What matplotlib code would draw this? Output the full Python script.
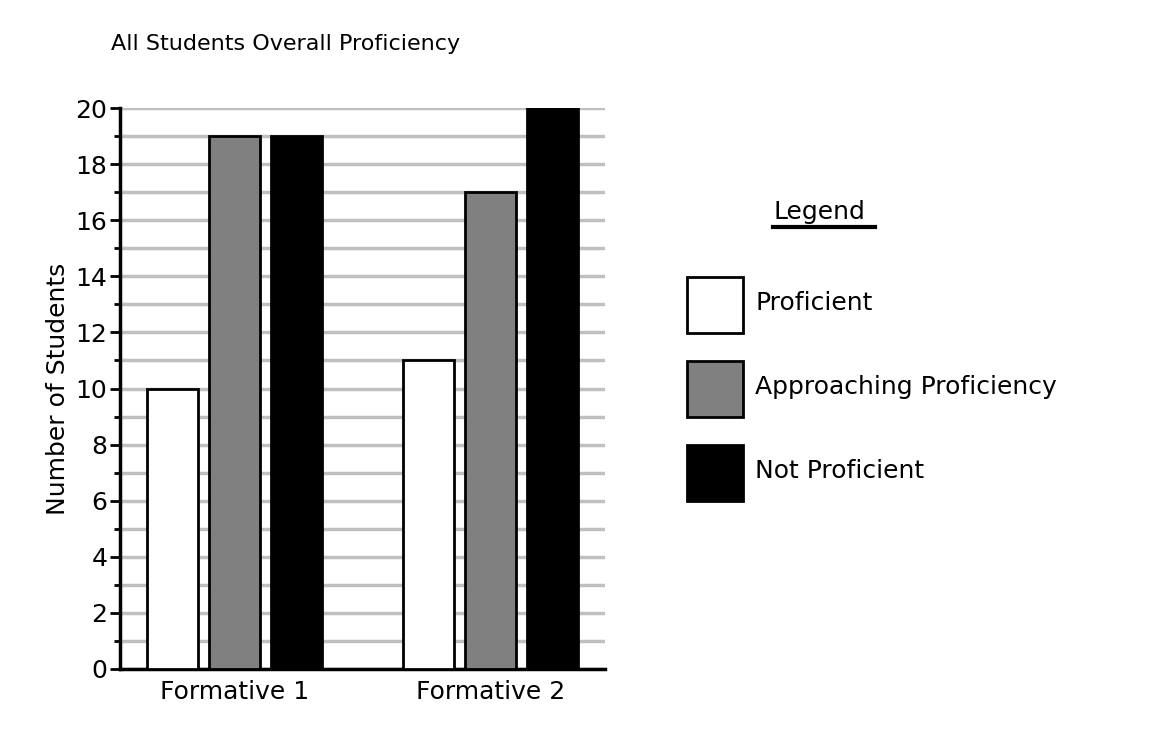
import numpy as np
import matplotlib.pyplot as plt
from matplotlib.patches import Rectangle

groups = ['Formative 1', 'Formative 2']
proficient = [10, 11]
approaching = [19, 17]
not_proficient = [19, 20]
series = ['Proficient', 'Approaching Proficiency', 'Not Proficient']
colors = ['white', 'gray', 'black']

fig = plt.figure(figsize=(11.64, 7.4), dpi=100)
ax = fig.add_axes([0.103, 0.096, 0.417, 0.758])

x = np.arange(len(groups))
w = 0.2
off = 0.243
for i, (vals, c) in enumerate(zip([proficient, approaching, not_proficient], colors)):
    ax.bar(x + (i - 1) * off, vals, width=w, color=c, edgecolor='black', linewidth=2, zorder=3)

ax.set_xlim(-0.45, 1.45)
ax.set_ylim(0, 20)
ax.set_yticks(np.arange(0, 21, 2))
ax.set_yticks(np.arange(0, 21, 1), minor=True)
ax.yaxis.grid(True, which='both', color='#c0c0c0', linewidth=2.5, zorder=0)
ax.set_axisbelow(True)
ax.set_xticks(x)
ax.set_xticklabels(groups)
ax.tick_params(axis='x', length=0, labelsize=18, pad=8)
ax.tick_params(axis='y', which='major', length=7, width=2, labelsize=18, pad=2)
ax.tick_params(axis='y', which='minor', length=4, width=2)
for s in ['top', 'right']:
    ax.spines[s].set_visible(False)
for s in ['left', 'bottom']:
    ax.spines[s].set_linewidth(2.5)
ax.set_ylabel('Number of Students', fontsize=18)
fig.text(0.095, 0.94, 'All Students Overall Proficiency', fontsize=16, va='center')

# legend drawn by hand
W, H = 1164, 740
fig.text(773 / W, 1 - 212 / H, 'Legend', fontsize=18, va='center')
fig.add_artist(plt.Line2D([773 / W, 875 / W], [1 - 227 / H] * 2, color='black', linewidth=3))
for i, (lab, c) in enumerate(zip(series, colors)):
    y0 = 277 + i * 84
    fig.add_artist(Rectangle((687 / W, 1 - (y0 + 56) / H), 56 / W, 56 / H,
                             facecolor=c, edgecolor='black', linewidth=2, transform=fig.transFigure))
    fig.text(755 / W, 1 - (y0 + 26) / H, lab, fontsize=18, va='center')

fig.savefig('out.png', dpi=100)
